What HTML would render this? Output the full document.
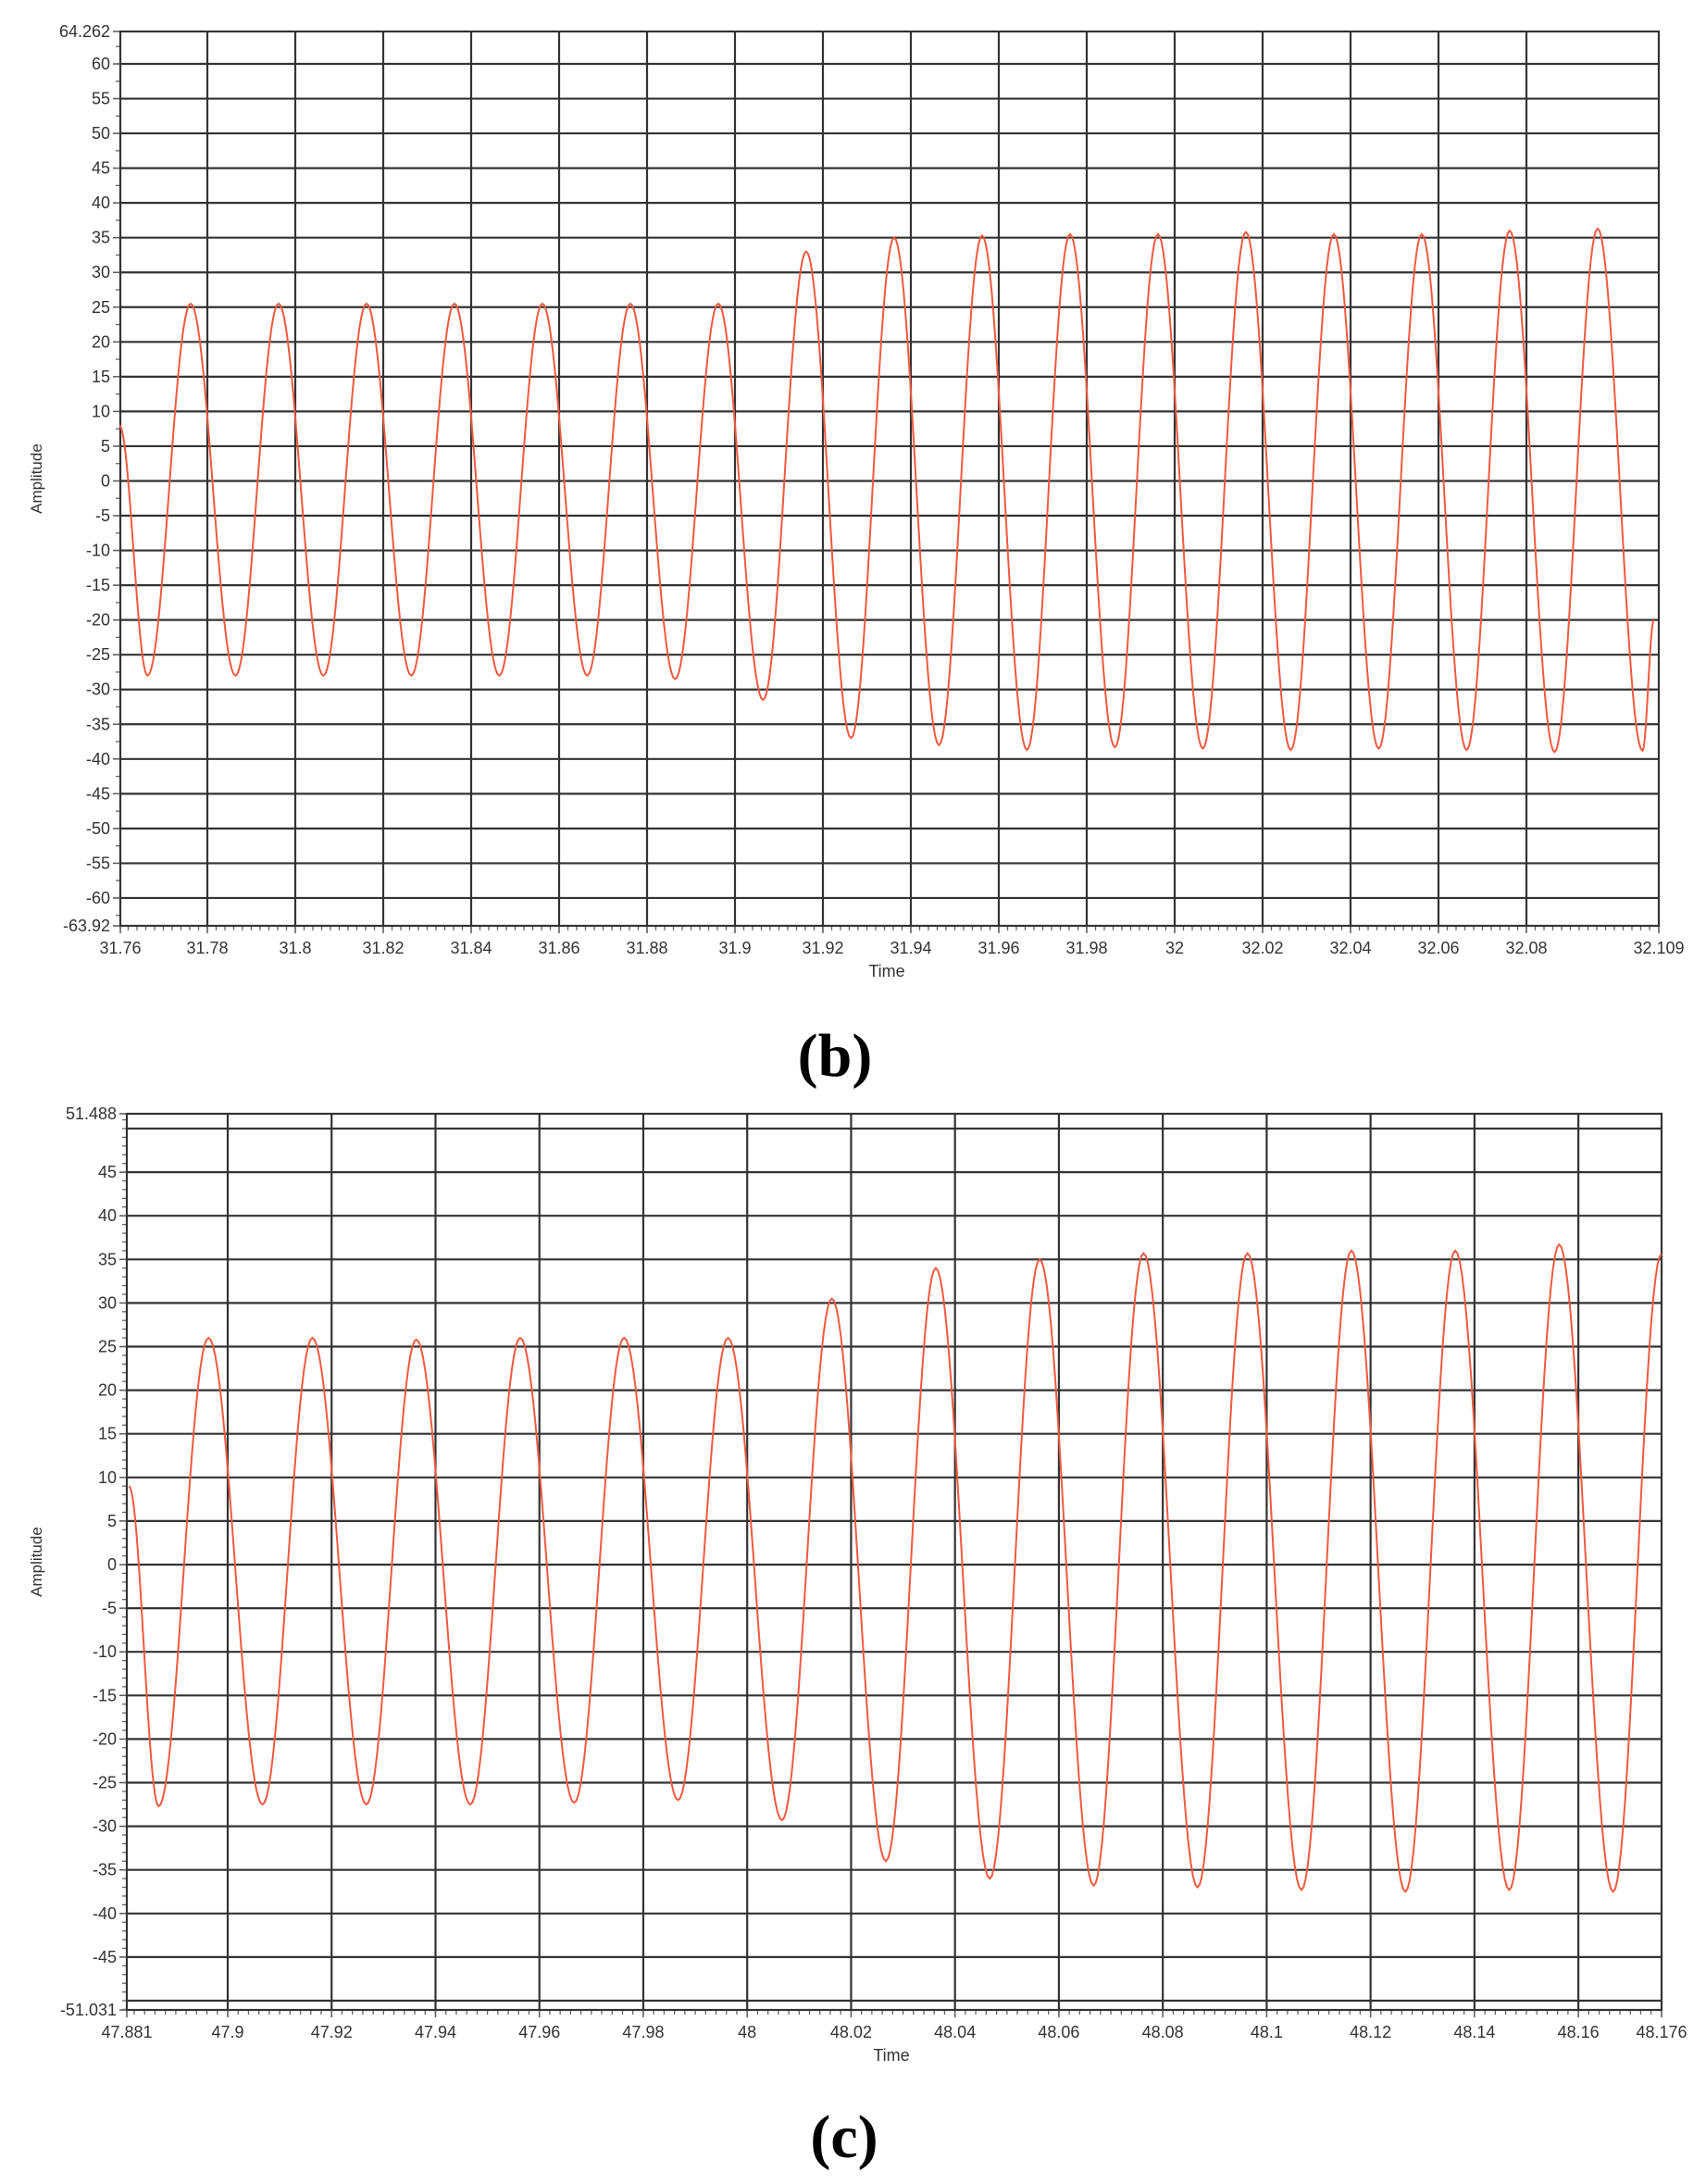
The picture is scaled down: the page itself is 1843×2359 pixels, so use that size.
<!DOCTYPE html>
<html><head><meta charset="utf-8">
<style>
html,body{margin:0;padding:0;background:#fff;}
svg{display:block;}
text{font-family:"Liberation Sans","DejaVu Sans",sans-serif;fill:#333;}
.lbl{font-family:"Liberation Serif",serif;font-weight:bold;fill:#000;}
</style></head>
<body>
<svg id="svg" width="1843" height="2359" viewBox="0 0 1843 2359">
<g id="chartB"></g>
<g id="chartC"></g>
<text class="lbl" x="902" y="1162" font-size="66" text-anchor="middle">(b)</text>
<text class="lbl" x="912" y="2330" font-size="66" text-anchor="middle">(c)</text>
</svg>
<script>
// ---- Chart (b) data ----
const bXTickLabels = ["31.76","31.78","31.8","31.82","31.84","31.86","31.88","31.9","31.92","31.94","31.96","31.98","32","32.02","32.04","32.06","32.08","32.109"];
const bYTickLabels = ["64.262","60","55","50","45","40","35","30","25","20","15","10","5","0","-5","-10","-15","-20","-25","-30","-35","-40","-45","-50","-55","-60","-63.92"];
const bExtraGrid = [];
const bTimes = [31.76,31.7664,31.7762,31.7864,31.7962,31.8064,31.8162,31.8264,31.8362,31.8464,31.8562,31.8664,31.8762,31.8864,31.8962,31.9064,31.9162,31.9264,31.9362,31.9464,31.9562,31.9664,31.9762,31.9864,31.9962,32.0064,32.0162,32.0264,32.0362,32.0464,32.0562,32.0664,32.0762,32.0864,32.0962,32.1064,32.109];
const bValues = [8,-28,25.5,-28,25.5,-28,25.5,-28,25.5,-28,25.5,-28,25.5,-28.5,25.5,-31.5,33,-37,35,-38,35.3,-38.7,35.5,-38.3,35.5,-38.5,35.8,-38.7,35.5,-38.5,35.5,-38.7,36,-39,36.3,-38.8,-20];
// ---- Chart (c) data ----
const cXTickLabels = ["47.881","47.9","47.92","47.94","47.96","47.98","48","48.02","48.04","48.06","48.08","48.1","48.12","48.14","48.16","48.176"];
const cYTickLabels = ["51.488","45","40","35","30","25","20","15","10","5","0","-5","-10","-15","-20","-25","-30","-35","-40","-45","-51.031"];
const cExtraGrid = [50,-50];
const cTimes = [47.881,47.8867,47.8963,47.9067,47.9163,47.9267,47.9363,47.9467,47.9563,47.9667,47.9763,47.9867,47.9963,48.0067,48.0163,48.0267,48.0363,48.0467,48.0563,48.0667,48.0763,48.0867,48.0963,48.1067,48.1163,48.1267,48.1363,48.1467,48.1563,48.1667,48.176];
const cValues = [9,-27.7,26,-27.5,26,-27.5,25.8,-27.5,26,-27.3,26,-27,26,-29.3,30.5,-34,34,-36,35,-36.8,35.7,-37,35.7,-37.3,36,-37.5,36,-37.3,36.7,-37.5,35.6];

const NS="http://www.w3.org/2000/svg";
function mk(parent,tag,attrs){const e=document.createElementNS(NS,tag);for(const k in attrs)e.setAttribute(k,attrs[k]);parent.appendChild(e);return e;}

function draw(g,cfg,xLabels,yLabels,extraGrid,times,values){
  const X=t=>cfg.x0+(t-cfg.t0)*cfg.sx;
  const Y=v=>cfg.y0+(cfg.v0-v)*cfg.sy;
  const L=cfg.left,R=cfg.right,T=cfg.top,B=cfg.bottom;
  xLabels.forEach((s,i)=>{
    const t=parseFloat(s);const x=X(t);
    const isEnd=(i===0||i===xLabels.length-1);
    if(!isEnd){
      const gl=mk(g,'line',{x1:x,y1:T,x2:x,y2:B,stroke:'#333','stroke-width':2.2});
      
      
    }
    const xe=isEnd?(i===0?L:R):x;
    mk(g,'line',{x1:xe,y1:B,x2:xe,y2:B+8,stroke:'#555','stroke-width':1.5});
    const tx=mk(g,'text',{x:xe,y:B+30,'font-size':18,'text-anchor':'middle'});
    tx.textContent=s;
    
    
  });
  for(let t=Math.ceil(cfg.tmin/0.002)*0.002;t<=cfg.tmax+1e-9;t+=0.002){
    const x=X(t);if(x<L||x>R)continue;
    mk(g,'line',{x1:x,y1:B,x2:x,y2:B+5,stroke:'#666','stroke-width':1.3});
  }
  extraGrid.forEach(v=>{
    const y=Y(v);
    const gl=mk(g,'line',{x1:L,y1:y,x2:R,y2:y,stroke:'#333','stroke-width':2.2});
    
    
  });
  yLabels.forEach((s,i)=>{
    const v=parseFloat(s);
    const isEnd=(i===0||i===yLabels.length-1);
    const y=isEnd?(i===0?T:B):Y(v);
    if(!isEnd){
      const gl=mk(g,'line',{x1:L,y1:y,x2:R,y2:y,stroke:'#333','stroke-width':2.2});
      
      
    }
    mk(g,'line',{x1:L-8,y1:y,x2:L,y2:y,stroke:'#555','stroke-width':1.5});
    const tx=mk(g,'text',{x:L-11,y:y+6,'font-size':18,'text-anchor':'end'});
    tx.textContent=s;
    
    
  });
  for(let v=Math.ceil(cfg.vmin/cfg.yminor)*cfg.yminor;v<=cfg.vmax;v+=cfg.yminor){
    const y=Y(v);if(y<T||y>B)continue;
    mk(g,'line',{x1:L-5,y1:y,x2:L,y2:y,stroke:'#666','stroke-width':1.3});
  }
  const fr=mk(g,'rect',{x:L,y:T,width:R-L,height:B-T,fill:'none',stroke:'#333','stroke-width':2.2});
  
  
  let d='';
  for(let i=0;i<times.length-1;i++){
    const t1=times[i],t2=times[i+1],v1=values[i],v2=values[i+1];
    const n=24;
    for(let k=(i===0?0:1);k<=n;k++){
      const f=k/n;const w=(1-Math.cos(Math.PI*f))/2;
      const px=X(t1+(t2-t1)*f),py=Y(v1+(v2-v1)*w);
      d+=(d?'L':'M')+px.toFixed(2)+' '+py.toFixed(2);
    }
  }
  const p=mk(g,'path',{d:d,fill:'none',stroke:'#ee5a40','stroke-width':2});
  
  
  const xt=mk(g,'text',{x:cfg.timeX,y:B+55,'font-size':18,'text-anchor':'middle'});
  xt.textContent='Time';
  
  
  const cy=(T+B)/2;
  const yt=mk(g,'text',{x:45,y:cy,'font-size':17,'text-anchor':'middle',transform:'rotate(-90 45 '+cy+')'});
  yt.textContent='Amplitude';
  
  
}

draw(document.getElementById('chartB'),
  {x0:224,t0:31.78,sx:4750,y0:69,v0:60,sy:7.508,left:130,right:1792,top:34,bottom:1000,tmin:31.76,tmax:32.109,vmin:-63.92,vmax:64.262,yminor:2.5,timeX:958},
  bXTickLabels,bYTickLabels,bExtraGrid,bTimes,bValues);
draw(document.getElementById('chartC'),
  {x0:246,t0:47.9,sx:5612,y0:1219,v0:50,sy:9.42,left:137,right:1795,top:1203,bottom:2171,tmin:47.881,tmax:48.176,vmin:-51.031,vmax:51.488,yminor:1,timeX:963},
  cXTickLabels,cYTickLabels,cExtraGrid,cTimes,cValues);
</script>
</body></html>
